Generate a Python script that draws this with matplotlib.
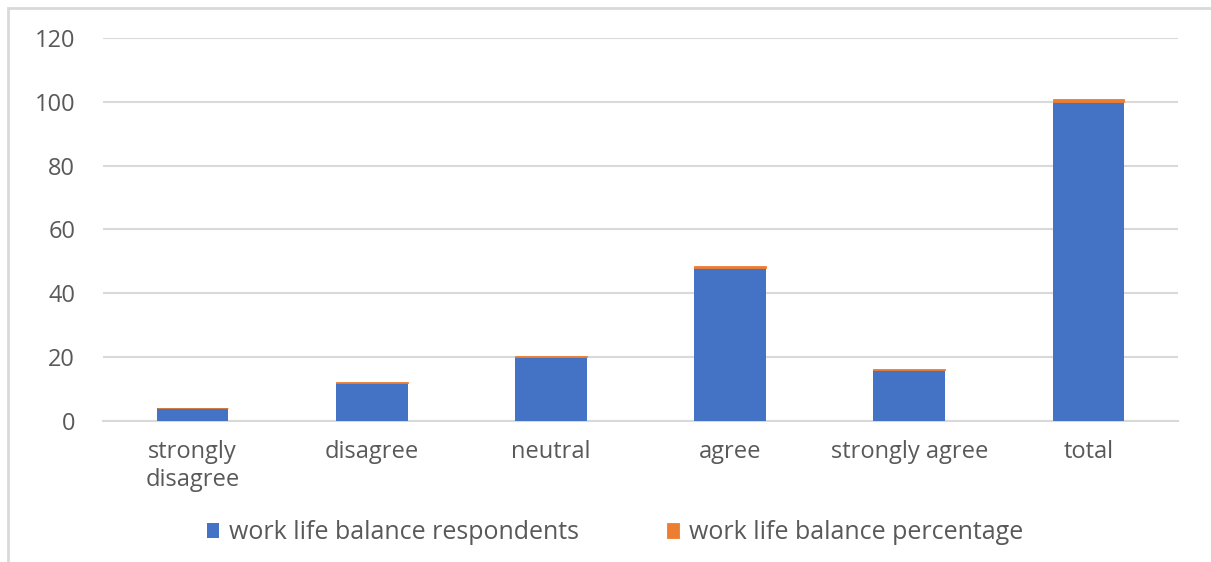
import numpy as np
import matplotlib.pyplot as plt
from matplotlib.patches import Rectangle

# --- data ---
categories = ["strongly\ndisagree", "disagree", "neutral", "agree", "strongly agree", "total"]
respondents = [4, 12, 20, 48, 16, 100]
percentage = [0.04, 0.12, 0.2, 0.48, 0.16, 1.0]

plt.rcParams["font.family"] = ["Open Sans", "DejaVu Sans"]
text_grey = "#595959"
grid_grey = "#d9d9d9"

fig = plt.figure(figsize=(12.11, 5.62), dpi=100)
ax = fig.add_axes([0.085, 0.251, 0.8877, 0.6816])

x = np.arange(len(categories))
ax.bar(x, respondents, width=0.4, color="#4472c4", label="work life balance respondents", zorder=3)
ax.bar(x, percentage, width=0.4, bottom=respondents, color="#ed7d31",
       edgecolor="#ed7d31", linewidth=0.6, label="work life balance percentage", zorder=3)

ax.set_xlim(-0.5, len(categories) - 0.5)
ax.set_ylim(0, 120)
ax.set_yticks(range(0, 121, 20))
ax.set_xticks(x)
ax.set_xticklabels(categories, linespacing=1.2)
ax.tick_params(axis="both", length=0, labelsize=17, colors=text_grey)
ax.tick_params(axis="y", pad=20)
ax.tick_params(axis="x", pad=14)
ax.grid(axis="y", color=grid_grey, linewidth=1.5, zorder=0)
for side in ["top", "right", "left"]:
    ax.spines[side].set_visible(False)
ax.spines["bottom"].set_color(grid_grey)
ax.spines["bottom"].set_linewidth(1.5)

leg = fig.legend(loc="center", bbox_to_anchor=(0.508, 0.052), ncol=2, frameon=False,
                 fontsize=18, handlelength=0.5, handleheight=0.5, handletextpad=0.4,
                 columnspacing=3.5)
for t in leg.get_texts():
    t.set_color(text_grey)

# light chart border like the source screenshot
fig.patches.append(Rectangle((0.007, -0.02), 1.1, 1.006, transform=fig.transFigure,
                             fill=False, edgecolor="#d9d9d9", linewidth=2))

fig.savefig("out.png", dpi=100)
